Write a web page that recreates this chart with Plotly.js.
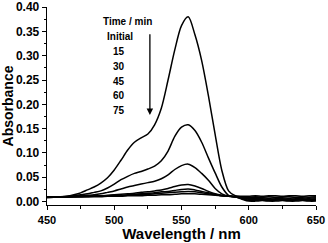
<!DOCTYPE html>
<html>
<head>
<meta charset="utf-8">
<script src="https://cdn.plot.ly/plotly-3.0.1.min.js"></script>
<style>html,body{margin:0;padding:0;background:#fff;}#chart{width:328px;height:243px;}</style>
</head>
<body>
<div id="chart"></div>
<script>
// Wavelength grid (nm)
const wavelength = [450,455,460,465,470,475,480,485,490,495,
  500,505,510,515,520,525,530,535,540,545,
  550,555,560,565,570,575,580,585,590,595,
  600,605,610,615,620,625,630,635,640,645,650];

// Absorbance series
const absInitial = [0.010,0.010,0.010,0.011,0.014,0.018,0.024,0.030,0.038,0.049,
  0.065,0.085,0.106,0.122,0.131,0.139,0.158,0.192,0.250,0.312,
  0.362,0.380,0.343,0.290,0.218,0.138,0.064,0.022,0.012,0.011,
  0.011,0.012,0.011,0.012,0.012,0.011,0.012,0.012,0.011,0.012,0.012];
const abs15 = [0.010,0.010,0.010,0.011,0.012,0.014,0.016,0.019,0.022,0.028,
  0.036,0.045,0.052,0.058,0.062,0.067,0.073,0.084,0.104,0.134,
  0.153,0.158,0.146,0.122,0.090,0.059,0.030,0.013,0.010,0.010,
  0.009,0.010,0.009,0.010,0.009,0.010,0.010,0.009,0.010,0.009,0.010];
const abs30 = [0.010,0.010,0.010,0.010,0.011,0.012,0.013,0.014,0.016,0.019,
  0.022,0.026,0.030,0.033,0.036,0.039,0.042,0.047,0.055,0.066,
  0.074,0.077,0.070,0.058,0.044,0.027,0.016,0.011,0.010,0.009,
  0.008,0.008,0.008,0.007,0.008,0.008,0.007,0.008,0.008,0.007,0.008];
const abs45 = [0.010,0.010,0.010,0.010,0.010,0.011,0.011,0.012,0.012,0.013,
  0.014,0.015,0.016,0.017,0.019,0.020,0.022,0.024,0.027,0.031,
  0.034,0.035,0.032,0.027,0.021,0.016,0.013,0.011,0.010,0.008,
  0.006,0.006,0.006,0.005,0.006,0.006,0.005,0.006,0.006,0.005,0.006];
const abs60 = [0.010,0.010,0.010,0.010,0.010,0.010,0.011,0.011,0.012,0.012,
  0.013,0.013,0.014,0.015,0.016,0.017,0.018,0.020,0.021,0.023,
  0.025,0.026,0.024,0.021,0.018,0.015,0.012,0.011,0.010,0.007,
  0.005,0.004,0.005,0.004,0.004,0.005,0.004,0.004,0.005,0.004,0.004];
const abs75 = [0.009,0.010,0.010,0.010,0.010,0.010,0.010,0.011,0.011,0.011,
  0.012,0.012,0.013,0.014,0.015,0.015,0.016,0.017,0.018,0.019,
  0.020,0.021,0.020,0.018,0.016,0.014,0.012,0.011,0.010,0.006,
  0.003,0.003,0.003,0.002,0.003,0.003,0.002,0.003,0.003,0.002,0.003];
const absLast = [0.008,0.009,0.009,0.009,0.010,0.010,0.010,0.010,0.010,0.011,
  0.011,0.011,0.012,0.012,0.012,0.013,0.013,0.014,0.014,0.015,
  0.016,0.016,0.016,0.015,0.014,0.013,0.012,0.011,0.010,0.005,
  0.001,0.001,0.002,0.001,0.001,0.002,0.001,0.001,0.002,0.001,0.001];

// Legend text
const legendTitle = "Time / min";
const legendLabels = ["Initial","15","30","45","60","75"];

const series = [absInitial, abs15, abs30, abs45, abs60, abs75, absLast];
const traces = series.map(s => ({
  x: wavelength, y: s, type: 'scatter', mode: 'lines',
  line: {color: '#000', width: 1.5, shape: 'spline', smoothing: 0.8},
  hoverinfo: 'skip', showlegend: false
}));

const fontFam = '"Liberation Sans", Arial, sans-serif';
const annotations = [
  {x: 509.7, y: 0.371, text: legendTitle}
].concat(legendLabels.map((t, i) => ({x: i === 0 ? 504.5 : 503.7, y: 0.340 - i * 0.0307, text: t})))
 .map(a => Object.assign({xref: 'x', yref: 'y', showarrow: false,
   font: {family: fontFam, size: 10, color: '#000', weight: 700}}, a));

annotations.push({
  x: 526.5, y: 0.178, ax: 526.5, ay: 0.347, xref: 'x', yref: 'y', axref: 'x', ayref: 'y',
  showarrow: true, arrowhead: 2, arrowsize: 1, arrowwidth: 1.3, arrowcolor: '#000', text: ''
});

const layout = {
  width: 328, height: 243,
  margin: {l: 47, r: 12, t: 7, b: 38},
  paper_bgcolor: '#fff', plot_bgcolor: '#fff',
  font: {family: fontFam, color: '#000'},
  xaxis: {
    range: [450, 650], tick0: 450, dtick: 50,
    ticks: 'outside', ticklen: 4, tickwidth: 1, tickcolor: '#000',
    minor: {dtick: 25, ticks: 'outside', ticklen: 3, tickcolor: '#000'},
    showline: true, linecolor: '#000', linewidth: 1.3,
    showgrid: false, zeroline: false, ticklabeloverflow: 'allow',
    tickfont: {family: fontFam, size: 11, weight: 700},
    title: {text: 'Wavelength / nm', font: {family: fontFam, size: 15, weight: 700}, standoff: 3}
  },
  yaxis: {
    range: [-0.007, 0.4002], tick0: 0, dtick: 0.05, tickformat: '.2f',
    ticks: 'outside', ticklen: 4, tickwidth: 1, tickcolor: '#000',
    minor: {dtick: 0.025, ticks: 'outside', ticklen: 2, tickcolor: '#000'},
    showline: true, linecolor: '#000', linewidth: 1.3,
    showgrid: false, zeroline: false, ticklabeloverflow: 'allow',
    tickfont: {family: fontFam, size: 12, weight: 700},
    title: {text: 'Absorbance', font: {family: fontFam, size: 14, weight: 700}, standoff: 3}
  },
  annotations: annotations
};

Plotly.newPlot('chart', traces, layout, {staticPlot: true, displayModeBar: false});
</script>
</body>
</html>
